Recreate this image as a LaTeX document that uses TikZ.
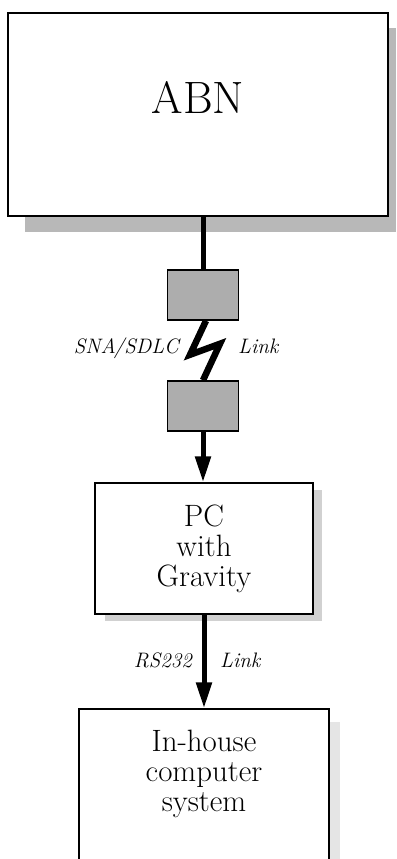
\documentclass[tikz,border=0pt]{standalone}
\usetikzlibrary{arrows.meta,backgrounds}
\begin{document}
\begin{tikzpicture}[x=1bp,y=-1bp,
  boxstyle/.style={draw=black, line width=1.3bp, fill=white, inner sep=0pt},
  modem/.style={draw=black, line width=1.5bp, fill=black!32, minimum width=71bp, minimum height=50bp, inner sep=0pt},
  wire/.style={line width=5bp},
  bolt/.style={line width=6.5bp, miter limit=10},
  arr/.style={line width=5bp, -{Triangle[width=15bp,length=26bp]}},
  lbl/.style={font=\fontsize{21}{21}\selectfont\itshape, inner sep=0pt},
  txt/.style={font=\fontsize{31}{30}\selectfont, align=center, inner sep=0pt}]
\clip (0,0) rectangle (396,859);
% shadows
\fill[black!28] (25,28) rectangle (396,232);
\fill[black!18] (105,490) rectangle (322,621);
\fill[black!10] (329,722) rectangle (340,859);
% boxes
\node[boxstyle, minimum width=380bp, minimum height=203bp] (abn) at (198,114.5) {};
\node[inner sep=0pt, anchor=base, font=\fontsize{45.5}{45.5}\selectfont] (abntext) at (198,113) {ABN};
\node[modem] (m1) at (203,295) {};
\node[modem] (m2) at (203,406) {};
\node[boxstyle, txt, minimum width=218bp, minimum height=131bp] (pc) at (204,548.5) {PC\\with\\Gravity};
\node[boxstyle, minimum width=250bp, minimum height=180bp] (inh) at (204,799) {};
\node[txt, anchor=north] (inhtext) at (204,730) {In-house\\computer\\system};
% connectors
\draw[wire] (m1.north) -- (m1.north |- abn.south);
\begin{scope}[on background layer]
\draw[bolt] (m1.south) ++(3,0) coordinate (b0) -- ++(-16,34) coordinate (b1) -- ++(30,-11) coordinate (b2) -- (m2.north);
\end{scope}
\draw[arr] (m2.south) -- (m2.south |- pc.north);
\draw[arr] (pc.south) -- (pc.south |- inh.north);
% labels
\node[lbl, anchor=base east] (sna) at (179,353) {SNA\kern-2pt/SDLC};
\node[lbl, anchor=base west] (link1) at (238,353) {Link};
\node[lbl, anchor=base east] (rs) at (192,667) {RS232};
\node[lbl, anchor=base west] (link2) at (220,667) {Link};
\end{tikzpicture}
\end{document}
